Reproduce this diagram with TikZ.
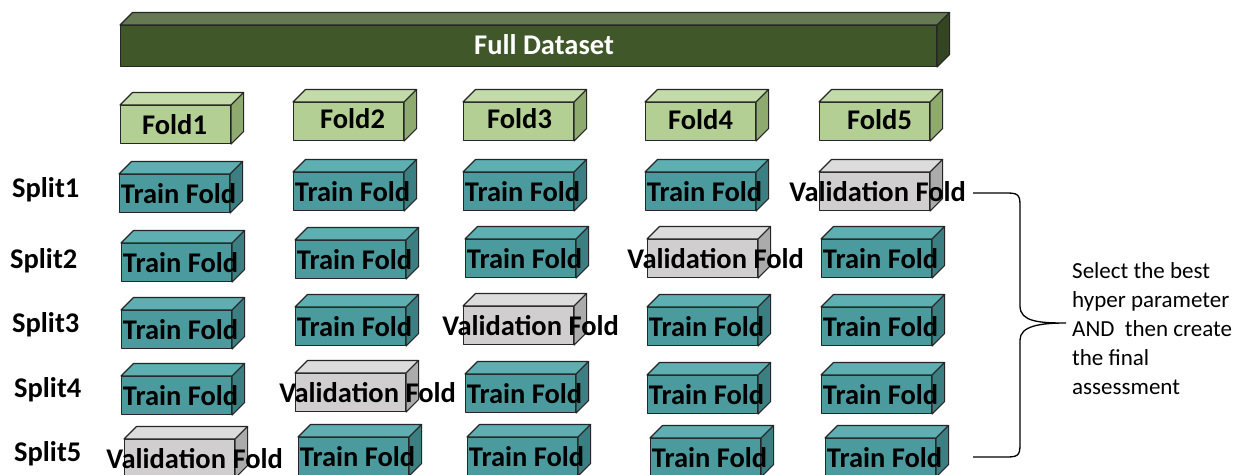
\documentclass[tikz,border=0pt]{standalone}
\usepackage{fontspec}
\setmainfont{Carlito}
\usetikzlibrary{calc}
\definecolor{edgec}{HTML}{262626}
\definecolor{fullF}{HTML}{405729}
\definecolor{fullT}{HTML}{657A52}
\definecolor{fullS}{HTML}{334621}
\definecolor{foldF}{HTML}{B3CF94}
\definecolor{foldT}{HTML}{C3DBA9}
\definecolor{foldS}{HTML}{8FAA6E}
\definecolor{trainF}{HTML}{4A9A9E}
\definecolor{trainT}{HTML}{5DAFB2}
\definecolor{trainS}{HTML}{3B7F83}
\definecolor{valF}{HTML}{D0CECE}
\definecolor{valT}{HTML}{DCDCDC}
\definecolor{valS}{HTML}{ABABAB}
\tikzset{
  face/.style={draw=edgec, line width=1.1pt, line join=round},
  boxlbl/.style={inner sep=0pt, font=\fontsize{28.5}{30}\selectfont\bfseries, text=black},
  splitlbl/.style={inner sep=0pt, anchor=west, font=\fontsize{28.5}{30}\selectfont\bfseries},
  notetext/.style={inner sep=0pt, anchor=north west, align=left, font=\fontsize{23}{29}\selectfont},
  bracestyle/.style={draw=black, line width=1.3pt}
}
% #1 name, #2 colour prefix, #3 x, #4 y, #5 width, #6 height, #7 text offset, #8 text
\newcommand\cubebox[8]{%
  \node[face, fill=#2F, inner sep=0pt, minimum width=#5pt, minimum height=#6pt, anchor=north west] (#1) at (#3,#4) {};
  \filldraw[face, fill=#2T] (#1.north west) -- ++(12.5,-12.5) -- ($(#1.north east)+(12.5,-12.5)$) -- (#1.north east) -- cycle;
  \filldraw[face, fill=#2S] (#1.north east) -- ++(12.5,-12.5) -- ($(#1.south east)+(12.5,-12.5)$) -- (#1.south east) -- cycle;
  \node[boxlbl] (#1-t) at ($(#1.center)+#7$) {#8};
}
\newcommand\trainbox[3]{\cubebox{#1}{train}{#2}{#3}{110}{38}{(4,0)}{Train Fold}}
\newcommand\valbox[4]{\cubebox{#1}{val}{#2}{#3}{110}{38}{(#4,0)}{Validation Fold}}
\begin{document}
\begin{tikzpicture}[x=1pt,y=-1pt]
\useasboundingbox (0,0) rectangle (1245,474);
\fill[white] (0,0) rectangle (1245,474);

% Full dataset bar
\cubebox{full}{full}{120}{25}{816}{41}{(0,0)}{}
\node[boxlbl, text=white] (fullt) at (544,45) {Full Dataset};

% Fold header boxes
\cubebox{f1}{fold}{120}{105}{110}{38}{(-1,0)}{Fold1}
\cubebox{f2}{fold}{293}{102}{110}{38}{(4,-3)}{Fold2}
\cubebox{f3}{fold}{463}{102}{110}{38}{(1,-3)}{Fold3}
\cubebox{f4}{fold}{645}{102}{110}{38}{(0,-2)}{Fold4}
\cubebox{f5}{fold}{819}{102}{110}{38}{(5,-2)}{Fold5}

% Split labels
\node[splitlbl] (s1) at (12,190) {Split1};
\node[splitlbl] (s2) at (10,261) {Split2};
\node[splitlbl] (s3) at (12,325) {Split3};
\node[splitlbl] (s4) at (14,390) {Split4};
\node[splitlbl] (s5) at (14,454) {Split5};

% Split1
\trainbox{a1}{119}{174}
\trainbox{a2}{293}{172}
\trainbox{a3}{463}{172}
\trainbox{a4}{645}{172}
\valbox{a5}{819}{172}{3}
% Split2
\trainbox{b1}{121}{243}
\trainbox{b2}{295}{240}
\trainbox{b3}{465}{239}
\valbox{b4}{647}{239}{13}
\trainbox{b5}{821}{239}
% Split3
\trainbox{c1}{121}{310}
\trainbox{c2}{295}{307}
\valbox{c3}{463}{306}{12}
\trainbox{c4}{647}{307}
\trainbox{c5}{821}{307}
% Split4
\trainbox{d1}{121}{376}
\valbox{d2}{295}{373}{17}
\trainbox{d3}{465}{374}
\trainbox{d4}{647}{375}
\trainbox{d5}{821}{375}
% Split5
\valbox{e1}{124}{439}{15}
\trainbox{e2}{298}{437}
\trainbox{e3}{467}{437}
\trainbox{e4}{650}{438}
\trainbox{e5}{825}{438}

% Brace
\coordinate (bt) at (973,193);
\coordinate (bb) at (973,457);
\coordinate (tip) at (1066,323);
\draw[bracestyle] (bt) -- (1008,193) .. controls (1020,193) and (1020,197) .. (1020,208)
  -- (1020,306) .. controls (1020,322) and (1040,323) .. (tip)
  .. controls (1040,323) and (1020,326) .. (1020,340)
  -- (1020,442) .. controls (1020,453) and (1020,457) .. (1008,457) -- (bb);

% Note
\node[notetext] (note) at (1072,262) {Select the best\\hyper parameter\\AND\ \ then create\\the final\\assessment};
\end{tikzpicture}
\end{document}
